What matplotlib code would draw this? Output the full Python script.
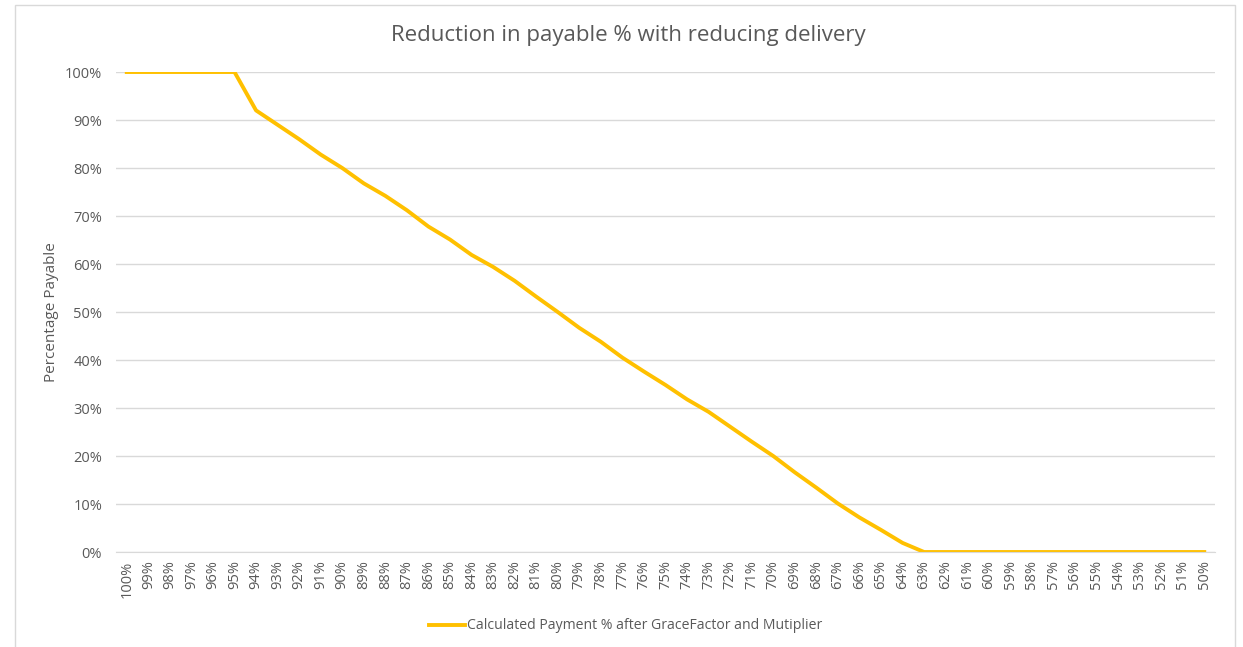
import matplotlib.pyplot as plt
from matplotlib.patches import Rectangle

plt.rcParams['font.family'] = ['Open Sans', 'DejaVu Sans']

# delivery % categories (x axis, left to right)
delivery = ['100%', '99%', '98%', '97%', '96%', '95%', '94%', '93%', '92%', '91%',
            '90%', '89%', '88%', '87%', '86%', '85%', '84%', '83%', '82%', '81%',
            '80%', '79%', '78%', '77%', '76%', '75%', '74%', '73%', '72%', '71%',
            '70%', '69%', '68%', '67%', '66%', '65%', '64%', '63%', '62%', '61%',
            '60%', '59%', '58%', '57%', '56%', '55%', '54%', '53%', '52%', '51%',
            '50%']

# payable %
payable = [100, 100, 100, 100, 100, 100, 92, 89, 86, 82.8,
           80, 76.8, 74.2, 71.2, 67.8, 65.1, 61.9, 59.4, 56.5, 53.2,
           50, 46.7, 43.8, 40.5, 37.6, 34.8, 31.8, 29.2, 26.1, 23,
           20, 16.6, 13.4, 10.1, 7.2, 4.6, 1.9, 0, 0, 0,
           0, 0, 0, 0, 0, 0, 0, 0, 0, 0,
           0]

yticks = [0, 10, 20, 30, 40, 50, 60, 70, 80, 90, 100]

grey = '#595959'
grid = '#D9D9D9'

fig = plt.figure(figsize=(12.43, 6.47), dpi=100)
ax = fig.add_axes([0.0933, 0.1468, 0.8842, 0.7419])

x = range(len(delivery))
line, = ax.plot(x, payable, color='#FFC000', lw=2.8, solid_joinstyle='round',
                label='Calculated Payment % after GraceFactor and Mutiplier')

ax.set_xlim(-0.5, len(delivery) - 0.5)
ax.set_ylim(0, 100)
ax.set_xticks(list(x))
ax.set_xticklabels(delivery, rotation=90, fontsize=10.5, color=grey)
ax.set_yticks(yticks)
ax.set_yticklabels([f'{v}%' for v in yticks], fontsize=10.5, color=grey)
ax.tick_params(axis='x', length=0, pad=6)
ax.tick_params(axis='y', length=0, pad=10)

ax.grid(axis='y', color=grid, lw=1)
ax.set_axisbelow(True)
for s in ['top', 'right', 'left']:
    ax.spines[s].set_visible(False)
ax.spines['bottom'].set_color(grid)

ax.set_ylabel('Percentage Payable', fontsize=11, color=grey, labelpad=4)
fig.text(0.5055, 0.945, 'Reduction in payable % with reducing delivery',
         ha='center', va='center', fontsize=16, color=grey)

fig.legend(handles=[line], loc='center', bbox_to_anchor=(0.503, 0.0325),
           frameon=False, fontsize=10.1, labelcolor=grey, handlelength=2.6,
           handletextpad=0.1)

# chart area border
fig.patches.append(Rectangle((15 / 1243, -0.01), 1220 / 1243, 1 - 5 / 647 + 0.01,
                             transform=fig.transFigure, fill=False,
                             edgecolor=grid, lw=1))

fig.savefig('out.png', dpi=100)
